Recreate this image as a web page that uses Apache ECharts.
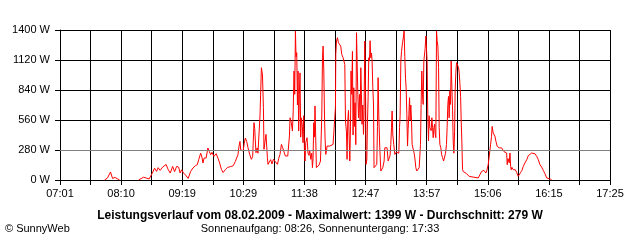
<!DOCTYPE html>
<html>
<head>
<meta charset="utf-8">
<script src="https://cdn.jsdelivr.net/npm/echarts@6/dist/echarts.min.js"></script>
<style>
  html, body { margin: 0; padding: 0; background: #ffffff; }
  #chart { width: 640px; height: 240px; }
</style>
</head>
<body>
<div id="chart"></div>
<script>
// Minutes after 07:01 and power in W (null = no sample / gap)
const minutes = [
  50.5, 53.9, 57.3, 59.6, 62.5, 65.3, 67.6, 78,
  89.1, 94.8, 98.2, 101.1, 103.3, 104.5, 107.3, 109.6, 111.3, 113.6, 116.4, 120.4,
  122.6, 125.1, 127.8, 130.0, 132.3, 134.6, 136.3, 138.0, 140.2, 142.5,
  145.4, 148.2, 150.8, 153.5, 155.8, 157.3, 159.6, 161.0, 162.2, 163.5,
  165.8, 167.8, 169.4, 170.9, 172.4, 174.6, 177.2, 179.2, 181.1, 183.1,
  185.1, 186.2, 187.9, 190.2, 193.6, 196.5, 199.0, 200.4, 201.9, 203.1,
  204.2, 205.0, 206.7, 207.8, 209.0, 210.3, 211.8, 213.3, 215.2, 217.1,
  218.6, 220.1, 220.9, 222.3, 223.7, 224.6, 226.9, 228.5, 229.7, 230.8,
  231.4, 232.8, 233.7, 235.3, 236.0, 239.0, 240.5, 242.1, 244.2, 246.7,
  248.1, 249.6, 251.2, 252.7, 254.1, 255.7, 258.4, 260.3, 261.0, 262.3,
  263.7, 264.6, 265.5, 266.3, 267.1, 267.8, 268.6, 269.4, 270.1, 270.8,
  271.6, 272.3, 273.1, 273.9, 275.0, 275.7, 276.5, 277.3, 278.0, 278.8,
  280.3, 281.4, 282.5, 283.3, 284.5, 285.6, 286.4, 287.1, 287.9, 288.7,
  289.3, 290.1, 290.9, 291.6, 292.7, 293.9, 295.5, 296.2, 297.0, 297.8,
  298.5, 299.3, 300.1, 300.7, 301.5, 302.3, 303.0, 304.6, 306.1, 308.0,
  309.8, 311.7, 312.5, 312.9, 313.7, 314.8, 315.9, 317.4, 318.5, 319.7,
  320.5, 321.2, 322.3, 323.1, 323.9, 325.0, 325.7, 326.5, 327.3, 328.0,
  328.8, 329.6, 330.2, 331.0, 331.8, 332.5, 333.3, 334.1, 334.8, 335.6,
  336.4, 337.1, 337.9, 338.7, 339.8, 340.5, 341.3, 342.0, 342.7, 343.5,
  344.3, 345.0, 345.8, 346.6, 347.3, 348.1, 348.9, 349.6, 350.3, 351.1,
  351.8, 352.6, 353.4, 354.1, 354.9, 355.7, 356.3, 357.1, 358.2, 359.4,
  360.2, 360.9, 361.7, 362.8, 364.0, 365.1, 366.2, 367.7, 368.5, 370.0,
  371.1, 372.3, 373.4, 374.5, 375.3, 376.1, 376.8, 377.6, 378.7, 379.9,
  381.6, 382.9, 384.4, 385.2, 385.9, 386.7, 387.5, 388.6, 389.8, 390.4,
  391.2, 392.0, 392.7, 393.5, 394.3, 395.0, 395.8, 396.6, 397.2, 398.0,
  398.8, 399.5, 400.6, 401.8, 402.6, 403.7, 404.8, 406.3, 407.5, 409.0,
  409.7, 410.5, 411.3, 412.0, 412.8, 413.6, 414.3, 415.1, 415.9, 416.5,
  417.3, 418.1, 418.8, 419.6, 421.1, 421.9, 422.7, 423.4, 424.2, 425.0,
  425.6, 426.4, 427.2, 427.9, 428.7, 429.5, 430.2, 431.0, 432.1, 432.9,
  434.0, 435.2, 436.3, 437.4, 438.5, 439.2, 440.0, 440.8, 441.5, 442.3,
  443.1, 443.8, 444.6, 445.4, 446.1, 446.9, 447.7, 448.3, 449.1, 449.9,
  451.1, 452.2, 452.9, 453.7, 454.5, 455.2, 455.9, 456.7, 457.4, 461.3,
  464.2, 465.8, 474.5, 476.4, 478.3, 480.9, 483.2, 484.3, 485.8, 486.9,
  488.5, 489.6, 490.3, 491.5, 492.6, 493.4, 494.6, 496.0, 498.3, 501.0,
  502.2, 503.7, 505.2, 506.7, 507.4, 508.2, 509.0, 509.7, 510.5, 511.3,
  511.9, 512.7, 514.2, 515.4, 516.5, 518.1, 519.9, 521.0, 522.6, 524.1,
  525.6, 527.5, 529.5, 531.3, 533.2, 535.1, 537.0, 538.9, 540.9, 542.7,
  544.5, 546.5, 548.3, 550.2, 552.2, 554.0, 556.7, 557.9
];
const watts = [
  0, 19, 75, 15, 24, 10, 0, null,
  0, 26, 17, 10, 3, 60, 110, 80, 115, 90, 120, 145,
  100, 65, 127, 78, 127, 120, 65, 95, 65, 45,
  15, 80, 112, 133, 143, 189, 250, 215, 159, 205,
  205, 299, 267, 236, 258, 220, 245, 205, 159, 100,
  70, 60, 100, 118, 125, 133, 174, 205, 236, 314,
  360, 283, 300, 270, 340, 392, 360, 301, 239, 193,
  220, 535, 480, 255, 300, 250, 597, 1048, 980, 675,
  286, 300, 426, 208, 146, 190, 150, 193, 175, 146,
  200, 239, 332, 300, 290, 224, 224, 411, 581, 540,
  457, 650, 1017, 800, 1391, 1150, 1188, 700, 1017, 457,
  800, 1000, 400, 580, 500, 348, 600, 286, 177, 350,
  395, 250, 230, 280, 193, 250, 115, 200, 535, 400,
  691, 400, 115, 130, 99, 140, 177, 364, 597, 1141,
  1250, 1017, 597, 395, 239, 270, 317, 300, 317, 317,
  332, 348, 675, 1172, 1297, 1328, 1281, 1290, 1250, 1172,
  1185, 1141, 1141, 1079, 551, 450, 193, 551, 650, 420,
  177, 500, 1017, 800, 1200, 420, 861, 500, 720, 330,
  1375, 1387, 800, 580, 799, 560, 1048, 800, 520, 700,
  426, 650, 1297, 900, 146, 189, 560, 780, 1141, 1110,
  1300, 1141, 1185, 1110, 861, 700, 115, 127, 115, 146,
  500, 955, 600, 300, 84, 80, 115, 177, 301, 317,
  301, 177, 160, 230, 330, 488, 644, 420, 330, 239,
  260, 250, 250, 488, 600, 1110, 1200, 1281, 1344, 1391,
  1150, 950, 861, 612, 317, 480, 612, 768, 560, 700,
  560, 332, 332, 250, 205, 115, 84, 100, 115, 332,
  705, 1017, 800, 705, 1110, 1110, 1230, 1344, 1344, 1110,
  581, 364, 600, 488, 460, 581, 488, 395, 488, 520,
  430, 395, 1391, 1300, 1250, 1050, 488, 332, 300, 239,
  210, 177, 190, 250, 332, 488, 705, 780, 580, 831,
  705, 1110, 861, 650, 364, 250, 450, 831, 1000, 1095,
  1080, 1050, 1000, 900, 780, 551, 364, 100, 80, 59,
  34, 19, 19, 49, 80, 90, 65, 90, 143, 159,
  329, 407, 500, 438, 450, 410, 360, 314, 300, 300,
  283, 265, 265, 252, 143, 200, 215, 160, 252, 127,
  96, 118, 96, 105, 96, 71, 34, 40, 71, 90,
  127, 159, 189, 227, 236, 252, 236, 245, 220, 189,
  143, 120, 90, 59, 19, 8, 8, 0
];
const timeLabels = ['07:01','08:10','09:19','10:29','11:38','12:47','13:57','15:06','16:15','17:25'];
const yTicks = [0, 280, 560, 840, 1120, 1400];
const averageW = 279;
const titleText = 'Leistungsverlauf vom 08.02.2009 - Maximalwert: 1399 W - Durchschnitt: 279 W';
const subText = 'Sonnenaufgang: 08:26, Sonnenuntergang: 17:33';
const copyText = '\u00a9 SunnyWeb';

const spanMin = 624;
const labelStep = spanMin / (timeLabels.length - 1);
const gridStep = labelStep / 2;
const FONT = '"Liberation Sans", Arial, sans-serif';

const seriesData = minutes.map((m, i) => [m, watts[i] === null ? '-' : watts[i]]);

const chart = echarts.init(document.getElementById('chart'), null, { renderer: 'canvas' });
chart.setOption({
  animation: false,
  backgroundColor: '#ffffff',
  grid: { left: 60, right: 30, top: 30, bottom: 60, containLabel: false },
  xAxis: {
    type: 'value',
    min: 0, max: spanMin, interval: gridStep,
    axisLine: { show: true, lineStyle: { color: '#000', width: 1 } },
    axisTick: { show: true, length: 5, lineStyle: { color: '#000' } },
    splitLine: { show: true, lineStyle: { color: '#000', width: 1 } },
    axisLabel: {
      show: true, margin: 8, color: '#000', fontSize: 11, fontFamily: FONT,
      showMinLabel: true, showMaxLabel: true, hideOverlap: false,
      formatter: function (v) {
        const k = Math.round(v / gridStep);
        if (Math.abs(v / gridStep - k) > 0.01 || k % 2 !== 0) return '';
        return timeLabels[k / 2] || '';
      }
    }
  },
  yAxis: {
    type: 'value',
    min: yTicks[0], max: yTicks[yTicks.length - 1], interval: yTicks[1] - yTicks[0],
    axisLine: { show: true, lineStyle: { color: '#000', width: 1 } },
    axisTick: { show: true, length: 5, lineStyle: { color: '#000' } },
    splitLine: { show: true, lineStyle: { color: '#000', width: 1 } },
    axisLabel: { margin: 10, color: '#000', fontSize: 11, fontFamily: FONT,
      formatter: function (v) { return String(Math.round(v)) + ' W'; } }
  },
  series: [{
    type: 'line',
    data: seriesData,
    showSymbol: false,
    symbol: 'none',
    connectNulls: false,
    lineStyle: { color: '#ff0000', width: 1 },
    itemStyle: { color: '#ff0000' },
    z: 3,
    markLine: {
      silent: true, symbol: ['none', 'none'],
      label: { show: false },
      lineStyle: { color: '#808080', width: 1, type: 'solid' },
      data: [{ yAxis: averageW }]
    }
  }],
  graphic: [
    { type: 'text', left: 'center', top: 210,
      style: { text: titleText, font: 'bold 12px ' + FONT, fill: '#000' } },
    { type: 'text', left: 'center', top: 223,
      style: { text: subText, font: '11px ' + FONT, fill: '#000' } },
    { type: 'text', left: 5, top: 223,
      style: { text: copyText, font: '11px ' + FONT, fill: '#000' } }
  ]
});
</script>
</body>
</html>
